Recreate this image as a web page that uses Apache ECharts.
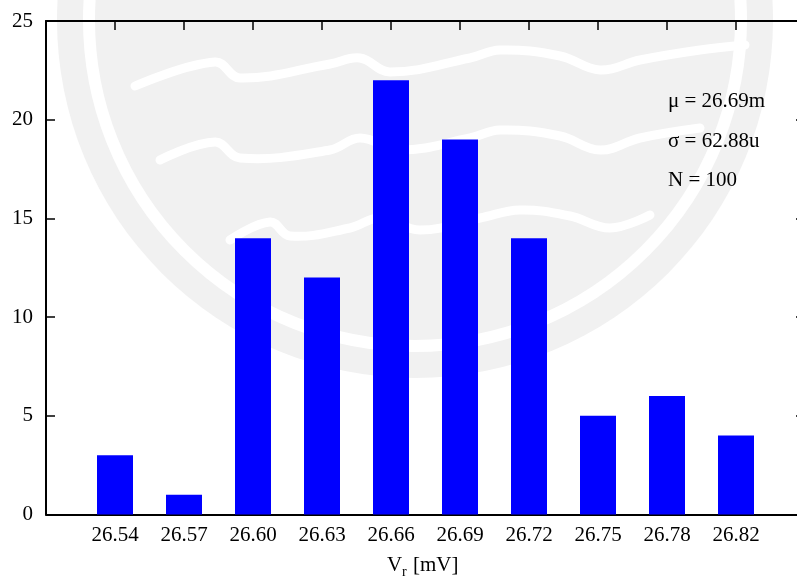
<!DOCTYPE html>
<html>
<head>
<meta charset="utf-8">
<style>
  html, body { margin: 0; padding: 0; background: #fff; }
  #chart { width: 797px; height: 579px; }
</style>
<script src="https://cdn.jsdelivr.net/npm/echarts@6/dist/echarts.min.js"></script>
</head>
<body>
<div id="chart"></div>
<script>
// Histogram bins (bin centres in mV) and counts
const binLabels = ['26.54', '26.57', '26.60', '26.63', '26.66', '26.69', '26.72', '26.75', '26.78', '26.82'];
const counts = [3, 1, 14, 12, 22, 19, 14, 5, 6, 4];
const yTicks = [0, 5, 10, 15, 20, 25];
const statsLines = ['\u03bc = 26.69m', '\u03c3 = 62.88u', 'N = 100'];

const FONT = '"Liberation Serif", "DejaVu Serif", serif';
const FS = 21;

const chart = echarts.init(document.getElementById('chart'), null, { renderer: 'canvas' });

// Faint seal in the background
const sealCx = 415, sealCy = 20;
const waveA = [[135, 86], [215, 62], [240, 78], [330, 64], [360, 58], [390, 72], [470, 58], [500, 50], [560, 56], [600, 70], [640, 60], [700, 50], [745, 45]];
const waveB = [[160, 160], [215, 142], [240, 158], [330, 150], [360, 138], [400, 150], [470, 138], [500, 130], [560, 136], [600, 150], [640, 138], [700, 128]];
const waveC = [[230, 240], [270, 222], [290, 236], [350, 228], [380, 218], [420, 230], [480, 218], [520, 210], [570, 216], [610, 228], [650, 215]];
function waveLine(points) {
  return { type: 'polyline', shape: { points: points, smooth: 0.4 }, style: { fill: 'none', stroke: '#ffffff', lineWidth: 9, lineCap: 'round' }, z: -9, silent: true };
}
const sealParts = [
  { type: 'circle', shape: { cx: sealCx, cy: sealCy, r: 358 }, style: { fill: '#f1f1f1' }, z: -10, silent: true },
  { type: 'circle', shape: { cx: sealCx, cy: sealCy, r: 326 }, style: { fill: 'none', stroke: '#ffffff', lineWidth: 12 }, z: -9, silent: true },
  waveLine(waveA), waveLine(waveB), waveLine(waveC)
];

const statTexts = statsLines.map((t, i) => ({
  type: 'text',
  left: 668,
  top: 91 + i * 39.5,
  style: { text: t, font: FS + 'px ' + FONT, fill: '#000' },
  z: 10
}));

// Axis title: V with subscript r, then the unit
const axisTitle = [
  { type: 'text', left: 387, top: 555, style: { text: 'V', font: FS + 'px ' + FONT, fill: '#000' }, z: 10 },
  { type: 'text', left: 402, top: 565, style: { text: 'r', font: '14px ' + FONT, fill: '#000' }, z: 10 },
  { type: 'text', left: 413, top: 555, style: { text: '[mV]', font: FS + 'px ' + FONT, fill: '#000' }, z: 10 }
];

const axisLineStyle = { color: '#000', width: 2 };
const tickStyle = { color: '#000', width: 1.5 };

chart.setOption({
  backgroundColor: '#ffffff',
  animation: false,
  grid: { left: 46, right: -8, top: 21, bottom: 64.5, containLabel: false, outerBoundsMode: 'none' },
  xAxis: [
    {
      type: 'value', position: 'bottom', min: -1, max: 10, interval: 1,
      axisLine: { show: true, onZero: false, lineStyle: axisLineStyle },
      axisTick: { show: false },
      splitLine: { show: false },
      axisLabel: {
        color: '#000', fontFamily: FONT, fontSize: FS, margin: 10,
        showMinLabel: true, showMaxLabel: true,
        formatter: v => binLabels[Math.round(v)] || ''
      }
    },
    {
      type: 'value', position: 'top', min: -1, max: 10, interval: 1,
      axisLine: { show: true, onZero: false, lineStyle: axisLineStyle },
      axisTick: { show: true, inside: true, length: 9, lineStyle: tickStyle },
      splitLine: { show: false },
      axisLabel: { show: false }
    }
  ],
  yAxis: [
    {
      type: 'value', position: 'left', min: yTicks[0], max: yTicks[yTicks.length - 1], interval: 5,
      axisLine: { show: true, onZero: false, lineStyle: axisLineStyle },
      axisTick: { show: true, inside: true, length: 9, lineStyle: tickStyle },
      splitLine: { show: false },
      axisLabel: { color: '#000', fontFamily: FONT, fontSize: FS, margin: 13 }
    },
    {
      type: 'value', position: 'right', min: yTicks[0], max: yTicks[yTicks.length - 1], interval: 5,
      axisLine: { show: true, onZero: false, lineStyle: axisLineStyle },
      axisTick: { show: true, inside: true, length: 9, lineStyle: tickStyle },
      splitLine: { show: false },
      axisLabel: { show: false }
    }
  ],
  series: [
    {
      type: 'bar',
      xAxisIndex: 0,
      yAxisIndex: 0,
      barWidth: 36,
      itemStyle: { color: '#0000ff' },
      data: counts.map((c, i) => [i, c])
    }
  ],
  graphic: [
    ...sealParts,
    ...statTexts,
    ...axisTitle
  ]
});
</script>
</body>
</html>
